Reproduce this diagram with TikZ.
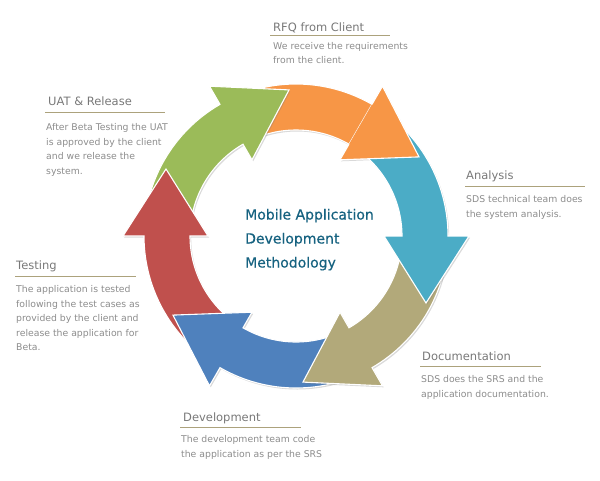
\documentclass[tikz,border=0pt]{standalone}
\usepackage{fontspec}
\setmainfont{DejaVu Sans}
\newfontfamily\titlefont[FakeBold=0.6]{DejaVu Sans}
\usepackage{tikz}
\usetikzlibrary{calc}
\usetikzlibrary{shadows}

\definecolor{rfqorange}{RGB}{247,150,70}
\definecolor{anateal}{RGB}{75,172,198}
\definecolor{doctan}{RGB}{178,169,122}
\definecolor{devblue}{RGB}{79,129,189}
\definecolor{testred}{RGB}{192,80,77}
\definecolor{uatgreen}{RGB}{155,187,89}
\definecolor{headgray}{RGB}{120,120,120}
\definecolor{notegray}{RGB}{140,140,140}
\definecolor{ruletan}{RGB}{172,162,124}
\definecolor{titleblue}{RGB}{22,98,128}

\begin{document}
\begin{tikzpicture}[x=1pt,y=1pt,
        stage/.style={fill=#1, draw=white, line width=1.1pt, line join=miter},
        stageshadow/.style={drop shadow={shadow xshift=1.2pt, shadow yshift=-1.5pt, opacity=0.3}},
        heading/.style={anchor=base west, inner sep=0pt, text=headgray, font=\fontsize{11.5}{13}\selectfont},
        notes/.style={anchor=base west, inner sep=0pt, align=left, text=notegray, font=\fontsize{9.3}{14.5}\selectfont},
        rule/.style={draw=ruletan, line width=0.9pt}]
        \useasboundingbox (0,0) rectangle (600,-480);
        \def\ri{106pt}
        \def\ro{152pt}
        \def\hi{88pt}
        \def\ho{173pt}
        \def\rm{130pt}
        \def\hl{67pt}

        \coordinate (c) at (296,-236);

        % one arrow per stage, head at \a, tail 60 degrees behind
        \foreach \col/\a in {rfqorange/60, uatgreen/120, testred/180, devblue/240, doctan/300, anateal/360}{
            \filldraw[stage=\col, stageshadow] ($(c)+(\a+60:\ro)$) arc[start angle=\a+60, end angle=\a, radius=\ro]
                -- ($(c)+(\a:\ho)$) -- ($(c)+(\a:\rm)+(\a-90:\hl)$) -- ($(c)+(\a:\hi)$) -- ($(c)+(\a:\ri)$)
                arc[start angle=\a, end angle=\a+60, radius=\ri] -- cycle;
        }
        % orange head again, over the tail of the teal arrow
        \filldraw[stage=rfqorange] ($(c)+(60:\ro)$) -- ($(c)+(60:\ho)$) -- ($(c)+(60:\rm)+(-30:\hl)$) -- ($(c)+(60:\hi)$) -- ($(c)+(60:\ri)$);

        % multi-line nodes: base is the last line
        \node[anchor=base west, inner sep=0pt, align=left, text=titleblue, font=\titlefont\fontsize{14}{24}\selectfont] (method) at (245,-267.5) {Mobile Application\\Development\\Methodology};

        \node[heading] (rfq) at (273,-31) {RFQ from Client};
        \draw[rule] ($(rfq.base west)+(-3,-4.5)$) -- +(120,0);
        \node[notes] (rfqtext) at (273,-63.5) {We receive the requirements\\from the client.};

        \node[heading] (uat) at (48,-105.5) {UAT \& Release};
        \draw[rule] ($(uat.base west)+(-3,-6.5)$) -- +(120,0);
        \node[notes] (uattext) at (46,-174) {After Beta Testing the UAT\\is approved by the client\\and we release the\\system.};

        \node[heading] (ana) at (466,-179.5) {Analysis};
        \draw[rule] ($(ana.base west)+(-1,-6.5)$) -- +(120,0);
        \node[notes] (anatext) at (466,-217) {SDS technical team does\\the system analysis.};

        \node[heading] (test) at (16,-269.5) {Testing};
        \draw[rule] ($(test.base west)+(-1,-6.5)$) -- +(121,0);
        \node[notes] (testtext) at (16,-350.5) {The application is tested\\following the test cases as\\provided by the client and\\release the application for\\Beta.};

        \node[heading] (doc) at (422,-360) {Documentation};
        \draw[rule] ($(doc.base west)+(-2,-6)$) -- +(121,0);
        \node[notes] (doctext) at (421,-397) {SDS does the SRS and the\\application documentation.};

        \node[heading] (dev) at (183,-421.5) {Development};
        \draw[rule] ($(dev.base west)+(-3,-5.5)$) -- +(121,0);
        \node[notes] (devtext) at (181,-457) {The development team code\\the application as per the SRS};
    \end{tikzpicture}
\end{document}
